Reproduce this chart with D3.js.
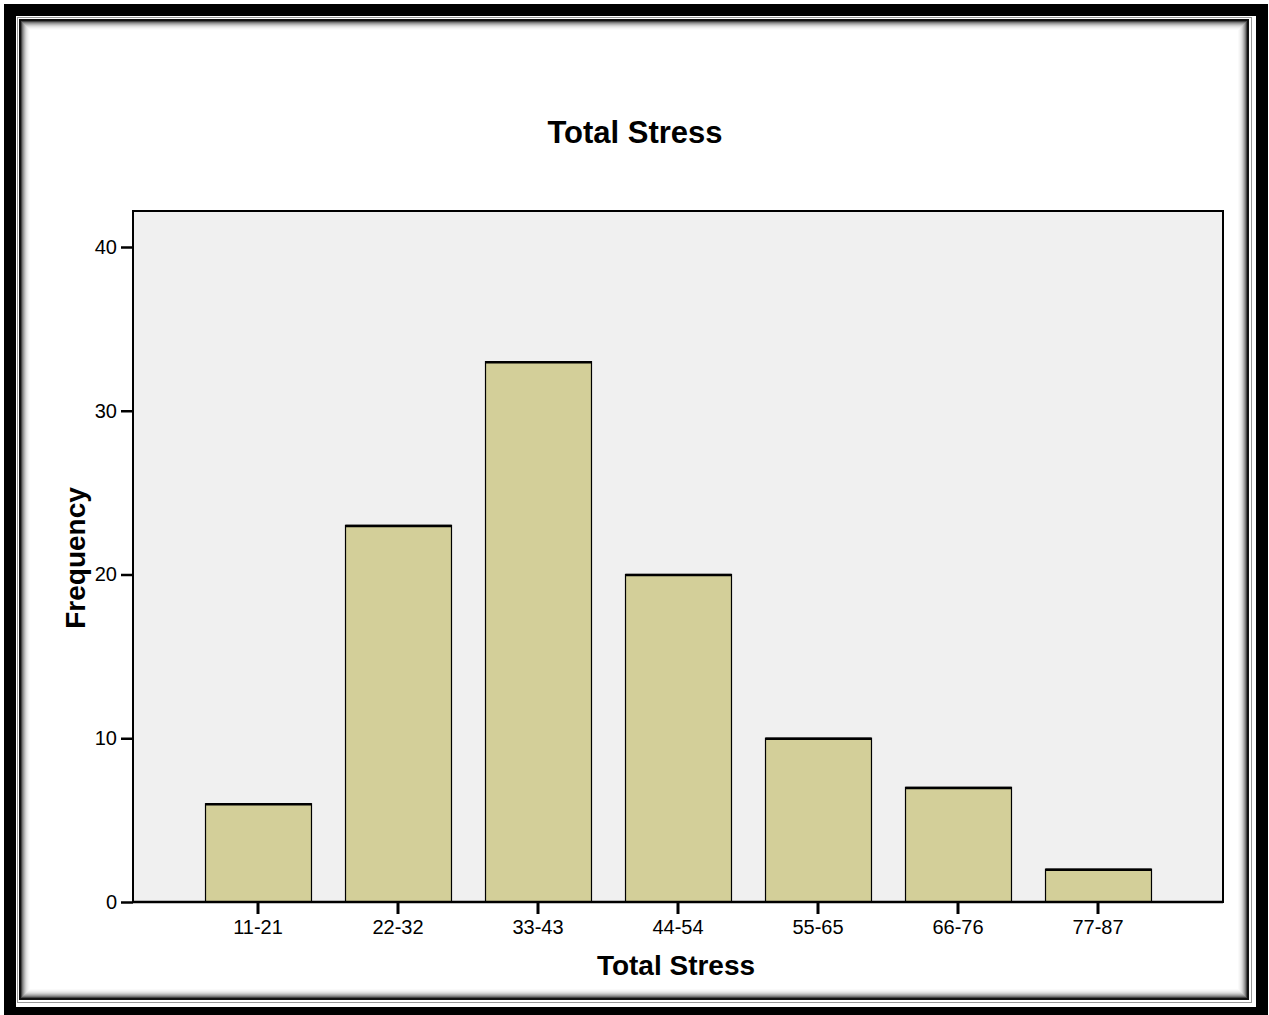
<!DOCTYPE html>
<html lang="en">
<head>
  <meta charset="UTF-8">
  <script src="https://cdn.jsdelivr.net/npm/d3@7"></script>
  <title>Total Stress</title>
  <style>
    body { margin: 0; background: #fff; }
    text { font-family: Arial, "Liberation Sans", sans-serif; }
  </style>
</head>
<body>
  <svg width="1269" height="1015" id="chart"></svg>
  <script>
    // data
    let categories = ["11-21", "22-32", "33-43", "44-54", "55-65", "66-76", "77-87"];
    let frequency = [6, 23, 33, 20, 10, 7, 2];
    let yTicks = [0, 10, 20, 30, 40];

    let svg = d3.select("#chart");

    /* FRAME */
    svg.append("rect") // thick outer black border
      .attr("x", 10).attr("y", 10)
      .attr("width", 1252).attr("height", 1003)
      .attr("fill", "none").attr("stroke", "#000").attr("stroke-width", 12);
    svg.append("rect") // thin grey line
      .attr("x", 17.5).attr("y", 17.5)
      .attr("width", 1234).attr("height", 985)
      .attr("fill", "none").attr("stroke", "#999").attr("stroke-width", 1);
    // soft inner shadow
    let shades = ["#111", "#444", "#777", "#999", "#b5b5b5", "#cdcdcd", "#dfdfdf", "#ebebeb", "#f4f4f4", "#fafafa"];
    shades.forEach((c, i) => {
      svg.append("rect")
        .attr("x", 20.5 + i).attr("y", 20.5 + i)
        .attr("width", 1227 - 2 * i).attr("height", 978 - 2 * i)
        .attr("fill", "none").attr("stroke", c).attr("stroke-width", i < 1 ? 3 : 1);
    });

    /* SCALES */
    let plot = {left: 133, right: 1223, top: 211, bottom: 902};
    let scaleY = d3.scaleLinear()
      .domain([0, 40])
      .range([plot.bottom, 247]);
    let scaleX = d3.scaleBand()
      .domain(categories)
      .range([188, 1168])
      .paddingInner(0.243)
      .paddingOuter(0.1215);

    // plot background
    svg.append("rect")
      .attr("x", plot.left).attr("y", plot.top)
      .attr("width", plot.right - plot.left).attr("height", plot.bottom - plot.top)
      .attr("fill", "#f0f0f0")
      .attr("stroke", "#000").attr("stroke-width", 2);

    /* BARS */
    let bars = svg.selectAll("bars")
      .data(frequency)
      .enter();
    bars.append("rect")
      .attr("x", (d, i) => scaleX(categories[i]) + 0.5)
      .attr("y", d => scaleY(d))
      .attr("width", scaleX.bandwidth())
      .attr("height", d => plot.bottom - scaleY(d))
      .attr("fill", "#d3cf99")
      .attr("stroke", "#000").attr("stroke-width", 1.2);
    bars.append("line") // heavier top edge
      .attr("x1", (d, i) => scaleX(categories[i]) + 0.5)
      .attr("x2", (d, i) => scaleX(categories[i]) + 0.5 + scaleX.bandwidth())
      .attr("y1", d => scaleY(d) + 0.5)
      .attr("y2", d => scaleY(d) + 0.5)
      .attr("stroke", "#000").attr("stroke-width", 2.5);

    /* AXES */
    let yAxis = d3.axisLeft(scaleY).tickValues(yTicks).tickSize(12).tickPadding(4);
    let gy = svg.append("g").attr("transform", `translate(${plot.left},0)`).call(yAxis);
    gy.select(".domain").remove();
    gy.selectAll("line").attr("stroke-width", 2.5);
    gy.selectAll("text").style("font-size", "20px").attr("fill", "#000");

    let xAxis = d3.axisBottom(scaleX).tickSize(12).tickPadding(6);
    let gx = svg.append("g").attr("transform", `translate(0,${plot.bottom})`).call(xAxis);
    gx.select(".domain").remove();
    gx.selectAll("line").attr("stroke-width", 3);
    gx.selectAll("text").style("font-size", "20px").attr("fill", "#000");

    // re-draw the axis lines on top
    svg.append("line")
      .attr("x1", plot.left).attr("x2", plot.right)
      .attr("y1", plot.bottom).attr("y2", plot.bottom)
      .attr("stroke", "#000").attr("stroke-width", 2.5);
    svg.append("line")
      .attr("x1", plot.left).attr("x2", plot.left)
      .attr("y1", plot.top).attr("y2", plot.bottom)
      .attr("stroke", "#000").attr("stroke-width", 2);

    /* TITLES */
    svg.append("text")
      .text("Total Stress")
      .attr("x", 635).attr("y", 143)
      .attr("text-anchor", "middle")
      .style("font-size", "31px").style("font-weight", "bold");
    svg.append("text")
      .text("Total Stress")
      .attr("x", 676).attr("y", 975)
      .attr("text-anchor", "middle")
      .style("font-size", "28px").style("font-weight", "bold");
    svg.append("text")
      .text("Frequency")
      .attr("transform", "translate(85,558) rotate(-90)")
      .attr("text-anchor", "middle")
      .style("font-size", "28px").style("font-weight", "bold");
  </script>
</body>
</html>
